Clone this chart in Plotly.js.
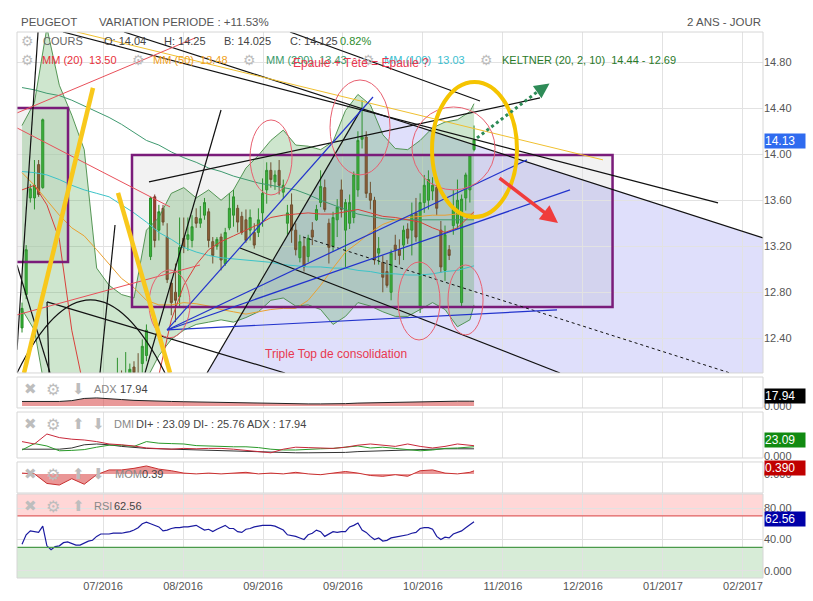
<!DOCTYPE html>
<html><head><meta charset="utf-8">
<script src="https://cdn.plot.ly/plotly-3.0.1.min.js"></script>
<style>html,body{margin:0;padding:0;background:#fff;}#chart{width:813px;height:601px;}</style>
</head><body><div id="chart"></div>
<script>
// ---- daily candles (index = trading day) ----
const open = [12.49,12.78,13.62,13.62,13.91,13.71,11.95,11.45,11.05,11.15,11.00,10.75,10.95,11.20,11.10,11.45,11.60,11.50,11.80,11.70,11.85,11.75,11.90,11.95,12.05,11.98,12.00,12.15,12.08,12.18,12.25,13.11,13.63,13.34,13.53,13.28,12.88,12.80,12.76,13.27,13.26,13.25,13.45,13.40,13.47,13.50,13.24,13.20,13.28,13.05,13.36,13.47,13.53,13.46,13.43,13.34,13.32,13.32,13.49,13.69,13.86,13.76,13.86,13.67,13.40,13.56,13.34,13.10,13.20,13.11,13.34,13.43,13.58,13.71,13.40,13.20,13.43,13.69,13.34,13.40,13.45,13.69,14.13,14.15,13.66,13.60,13.14,13.06,12.98,12.80,13.21,13.17,13.21,13.35,13.34,13.49,12.68,13.58,13.60,13.68,13.71,13.34,12.99,13.17,13.38,13.40,12.71,13.62,13.69,14.04];
const high = [12.71,13.21,13.74,13.95,13.95,14.31,12.05,11.60,11.30,11.35,11.10,11.00,11.30,11.40,11.50,11.70,11.75,11.85,11.95,11.90,12.00,11.95,12.05,12.23,12.12,12.28,12.18,12.20,12.27,12.39,12.52,13.63,13.65,13.56,13.56,13.40,12.91,13.05,13.45,13.45,13.45,13.47,13.53,13.55,13.62,13.53,13.28,13.28,13.31,13.36,13.66,13.69,13.56,13.50,13.52,13.52,13.40,13.53,13.79,13.93,13.93,13.86,13.95,13.78,13.56,13.66,13.40,13.30,13.28,13.30,13.41,13.56,13.86,13.78,13.44,13.50,13.61,13.78,13.61,13.65,13.85,14.20,14.47,14.20,13.76,13.63,13.28,13.12,13.08,13.17,13.30,13.26,13.38,13.40,13.58,13.62,13.66,13.82,13.86,13.80,13.75,13.42,13.38,13.21,13.69,13.78,13.65,13.84,14.00,14.25];
const low = [12.45,12.74,13.58,13.52,13.63,13.70,11.40,10.90,10.80,10.95,10.60,10.55,10.90,11.00,11.05,11.35,11.40,11.45,11.60,11.55,11.70,11.65,11.80,11.85,11.90,11.92,11.95,12.02,12.00,12.10,12.20,13.08,13.19,13.25,13.38,12.88,12.60,12.54,12.67,13.14,13.16,13.19,13.36,13.36,13.43,13.19,13.05,13.17,12.99,13.03,13.34,13.37,13.32,13.30,13.23,13.25,13.18,13.28,13.37,13.57,13.71,13.69,13.65,13.61,13.30,13.23,13.12,13.06,12.98,13.06,13.21,13.42,13.54,13.50,13.05,13.15,13.28,13.45,13.02,13.35,13.40,13.63,14.05,13.62,13.52,13.04,13.04,12.80,12.84,12.73,13.08,13.04,13.08,13.22,13.12,13.24,12.62,13.49,13.52,13.60,13.47,12.97,12.90,13.08,13.30,13.35,12.67,13.51,13.58,14.025];
const close = [12.66,13.17,13.70,13.73,13.65,14.30,11.50,11.00,11.20,11.05,10.70,10.95,11.25,11.10,11.45,11.60,11.50,11.80,11.70,11.85,11.75,11.90,11.95,12.05,11.98,12.08,12.13,12.10,12.05,12.33,12.47,13.62,13.25,13.50,13.41,12.91,12.71,12.73,13.19,13.19,13.30,13.37,13.40,13.44,13.58,13.25,13.12,13.26,13.08,13.32,13.53,13.63,13.41,13.32,13.25,13.45,13.21,13.43,13.66,13.86,13.78,13.82,13.73,13.73,13.49,13.34,13.17,13.24,13.02,13.27,13.28,13.52,13.72,13.52,13.19,13.45,13.54,13.52,13.58,13.58,13.82,14.12,14.15,13.66,13.60,13.08,13.18,12.93,12.86,13.14,13.17,13.12,13.34,13.27,13.47,13.28,13.58,13.73,13.78,13.73,13.53,13.02,13.30,13.12,13.52,13.60,13.61,13.82,13.99,14.125];
const rsi = [34,46,51,50,49,57,32,27,31,32,36,37,35,33,33,35,38,39,44,47,47,47,48,48,48,49,50,52,55,60,62,60,58,56,51,52,54,55,55,56,56,57,58,55,52,53,50,53,56,58,54,54,50,49,53,54,56,57,58,58,58,57,54,52,46,45,44,42,40,46,48,52,50,44,47,50,49,50,50,56,58,61,52,49,44,40,42,38,39,42,43,44,45,46,48,49,54,55,55,53,44,40,43,42,47,49,51,55,59,62.56];

// ---- indicators sampled every 3 sessions ----
const indX = [0,3,6,9,12,15,18,21,24,27,30,33,36,39,42,45,48,51,54,57,60,63,66,69,72,75,78,81,84,87,90,93,96,99,102,105,108,109];
const mm20 = [13.69,13.73,13.56,13.26,12.47,11.95,11.43,11.25,11.25,11.43,11.60,12.08,12.56,12.86,13.04,13.17,13.24,13.29,13.34,13.39,13.45,13.47,13.48,13.49,13.48,13.48,13.50,13.52,13.49,13.46,13.45,13.43,13.41,13.36,13.32,13.36,13.46,13.50];
const mm50 = [13.84,13.73,13.60,13.47,13.36,13.29,13.17,13.04,12.92,12.84,12.73,12.69,12.69,12.71,12.70,12.68,12.65,12.63,12.61,12.63,12.65,12.66,12.66,12.73,12.86,13.01,13.15,13.23,13.32,13.39,13.43,13.45,13.46,13.47,13.47,13.48,13.48,13.48];
const mm200 = [14.58,14.56,14.53,14.51,14.47,14.42,14.37,14.32,14.26,14.19,14.12,14.08,14.02,13.97,13.93,13.88,13.85,13.81,13.78,13.75,13.73,13.71,13.69,13.65,13.60,13.56,13.52,13.48,13.46,13.44,13.43,13.43,13.43,13.43,13.43,13.43,13.43,13.43];
const mm100 = [13.85,13.84,13.82,13.78,13.73,13.69,13.66,13.63,13.56,13.49,13.41,13.32,13.26,13.19,13.15,13.12,13.10,13.09,13.08,13.07,13.06,13.04,13.03,13.02,13.02,13.01,13.01,12.99,12.98,12.96,12.96,12.95,12.95,12.96,12.98,12.99,13.02,13.03];
const keltUp = [14.25,14.45,15.10,14.60,14.34,14.04,13.01,12.86,12.78,12.75,13.34,13.45,13.66,13.71,13.62,13.69,13.60,13.69,13.88,13.99,14.12,14.21,14.08,14.07,14.04,14.11,14.38,14.52,14.43,14.17,14.05,14.04,14.12,14.23,14.28,14.30,14.37,14.44];
const keltLow = [12.65,12.47,11.86,11.69,11.60,11.52,11.52,11.60,11.69,11.86,12.04,12.25,12.39,12.47,12.52,12.54,12.56,12.54,12.58,12.63,12.73,12.75,12.68,12.69,12.65,12.52,12.59,12.71,12.68,12.63,12.59,12.59,12.65,12.71,12.65,12.50,12.56,12.69];
const adx = [17,17,17,17,20,28,30,28,24,21,19,18,17,16,15,15,14,13,12,11,10,9,8,8,8,8,9,11,12,14,15,16,17,17,18,18,18,17.94];
const diPlus = [15,31,25,13,14,16,22,27,27,24,36,32,31,30,26,25,23,23,23,21,17,15,15,17,18,19,22,25,20,22,19,16,13,15,19,20,21,23.09];
const diMinus = [36,30,55,46,42,40,36,30,28,25,20,18,17,19,18,19,19,17,14,10,8,17,22,21,20,19,22,27,30,27,24,30,24,20,24,30,27,25.76];
const mom = [0.1,0.0,-1.2,-1.4,-0.6,-1.3,-0.1,0.5,0.5,0.7,1.0,0.6,0.4,0.1,0.0,0.1,0.0,0.1,0.2,0.0,0.1,0.0,0.2,0.0,-0.1,0.1,0.3,0.1,-0.2,-0.3,-0.1,-0.3,0.4,0.5,0.1,0.0,0.2,0.39];

// ---- axis ticks ----
const xTickPos = [19.53,38.82,58.11,77.40,96.69,115.98,135.27,154.56,173.85];
const xTickText = ['07/2016','08/2016','09/2016','09/2016','10/2016','11/2016','12/2016','01/2017','02/2017'];
const priceTicks = [12.4,12.8,13.2,13.6,14.0,14.4,14.8];

const idx = open.map((_, i) => i);
const FONT = 'Liberation Sans, Arial, sans-serif';

const traces = [
  {type:'scatter', mode:'lines', x:indX, y:keltUp, xaxis:'x', yaxis:'y', line:{color:'rgba(70,140,70,0.9)', width:1}, hoverinfo:'skip'},
  {type:'scatter', mode:'lines', x:indX, y:keltLow, xaxis:'x', yaxis:'y', line:{color:'rgba(70,140,70,0.9)', width:1}, fill:'tonexty', fillcolor:'rgba(80,165,80,0.28)', hoverinfo:'skip'},
  {type:'scatter', mode:'lines', x:indX, y:mm200, line:{color:'#3f9a70', width:1}, hoverinfo:'skip'},
  {type:'scatter', mode:'lines', x:indX, y:mm100, line:{color:'#3cc3c8', width:1}, hoverinfo:'skip'},
  {type:'scatter', mode:'lines', x:indX, y:mm50, line:{color:'#eaa030', width:1}, hoverinfo:'skip'},
  {type:'scatter', mode:'lines', x:indX, y:mm20, line:{color:'#d8403a', width:1}, hoverinfo:'skip'},
  {type:'candlestick', x:idx, open:open, high:high, low:low, close:close, xaxis:'x', yaxis:'y', whiskerwidth:0,
   increasing:{line:{color:'#238a23', width:1}, fillcolor:'#36b936'},
   decreasing:{line:{color:'#7a3024', width:1}, fillcolor:'#a8432f'}, hoverinfo:'skip'},
  {type:'scatter', mode:'lines', x:indX, y:adx, yaxis:'y2', line:{color:'#222', width:1}, fill:'tozeroy', fillcolor:'rgba(215,70,70,0.55)', hoverinfo:'skip'},
  {type:'scatter', mode:'lines', x:indX, y:adx, yaxis:'y3', line:{color:'#333', width:1}, hoverinfo:'skip'},
  {type:'scatter', mode:'lines', x:indX, y:diPlus, yaxis:'y3', line:{color:'#2a9a2a', width:1}, hoverinfo:'skip'},
  {type:'scatter', mode:'lines', x:indX, y:diMinus, yaxis:'y3', line:{color:'#c8283a', width:1}, hoverinfo:'skip'},
  {type:'scatter', mode:'lines', x:indX, y:mom, yaxis:'y4', line:{color:'#c83030', width:1}, fill:'tozeroy', fillcolor:'rgba(220,80,80,0.6)', hoverinfo:'skip'},
  {type:'scatter', mode:'lines', x:idx, y:rsi, yaxis:'y5', line:{color:'#1a1aa0', width:1.2}, hoverinfo:'skip'}
];

const PX = x => (x - 17) / 746, PY = y => (578 - y) / 546;

function ln(x0,y0,x1,y1,color,width,dash){return {type:'line',xref:'x',yref:'y',x0,y0,x1,y1,line:{color,width,dash:dash||'solid'},layer:'above'};}
function ell(x0,y0,x1,y1,color,width){return {type:'circle',xref:'x',yref:'y',x0,y0,x1,y1,line:{color,width},fillcolor:'rgba(0,0,0,0)',layer:'above'};}
function frame(y0,y1){return {type:'rect',xref:'paper',yref:'paper',x0:0,x1:1,y0,y1,line:{color:'#d6d6d6',width:1},fillcolor:'rgba(0,0,0,0)',layer:'above'};}

const BLK='#111', RED='#e8505a', BLUE='#2233cc', PUR='#7a1c7a', YEL='#f8c81c';
const shapes = [
  {type:'path', xref:'x', yref:'y', path:'M 41.4,11.9 L 81.99,14.403 L 178.68,13.272 L 181,13.26 L 181,11.9 Z', fillcolor:'rgba(170,170,245,0.38)', line:{width:0}, layer:'below'},
  {type:'rect', xref:'x', yref:'y', x0:26.52, x1:142.4, y0:12.672, y1:13.994, fillcolor:'rgba(0,0,0,0.05)', line:{width:0}, layer:'below'},
  {type:'rect', xref:'x', yref:'y', x0:-1.5, x1:11.09, y0:13.063, y1:14.403, fillcolor:'rgba(0,0,0,0.05)', line:{width:0}, layer:'below'},
  {type:'rect', xref:'x', yref:'y', x0:26.52, x1:142.4, y0:12.672, y1:13.994, fillcolor:'rgba(0,0,0,0)', line:{color:PUR,width:2.5}, layer:'above'},
  {type:'rect', xref:'x', yref:'y', x0:-1.5, x1:11.09, y0:13.063, y1:14.403, fillcolor:'rgba(0,0,0,0)', line:{color:PUR,width:2.5}, layer:'above'},
  // black trendlines
  ln(64.62,15.063,110.44,14.463,BLK,1.2),
  ln(9.89,15.063,167.83,13.577,BLK,1.2),
  ln(24.60,15.063,178.68,13.272,BLK,1.2),
  ln(44.61,12.098,81.99,14.403,BLK,1.2),
  ln(52.57,13.185,129.73,12.098,BLK,1.2),
  ln(6.03,12.716,63.42,12.098,BLK,1.2),
  ln(30.62,13.759,124.91,14.490,BLK,1.2),
  ln(29.66,12.098,47.99,14.385,BLK,1.2),
  ln(18.81,12.098,22.43,13.385,BLK,1.2),
  ln(3.86,15.063,-1.21,12.30,BLK,1.2),
  ln(-1.21,13.037,6.75,12.098,BLK,1.2),
  ln(6.03,12.716,6.51,12.098,BLK,1.2),
  {type:'path', xref:'x', yref:'y', path:'M -1.21,12.098 Q 16.40,13.368 34.48,12.098', line:{color:BLK,width:1.2}, layer:'above'},
  ln(67.76,13.281,170.73,12.098,BLK,1,'dot'),
  // thin yellow
  ln(13.26,15.063,140.10,13.951,'#f0c030',1),
  // red thin lines
  ln(-1.21,14.359,41.72,15.011,RED,1),
  ln(-1.21,14.229,35.69,13.542,RED,1),
  ln(-1.21,12.603,42.92,13.037,RED,1),
  // blue fan
  ln(34.97,12.472,84.64,14.498,BLUE,1.2),
  ln(34.97,12.472,121.77,13.951,BLUE,1.2),
  ln(34.97,12.472,132.14,13.690,BLUE,1.2),
  ln(34.97,12.472,129.01,12.646,BLUE,1.2),
  // red ellipses
  ell(30.62,12.404,40.51,12.994,'#e86070',1),
  ell(54.98,13.646,65.11,14.298,'#e86070',1),
  ell(74.27,13.820,88.74,14.646,'#e86070',1),
  ell(94.04,13.690,114.06,14.411,'#e86070',1),
  ell(90.67,12.385,100.80,13.063,'#e86070',1),
  ell(102.72,12.429,111.17,13.037,'#e86070',1),
  // yellow thick
  ln(0.48,12.098,17.12,14.577,YEL,4.5),
  ln(23.15,13.664,35.69,12.098,YEL,4.5),
  ell(98.87,13.455,119.36,14.629,'#f5c400',4),
  // green dotted arrow
  ln(109.72,14.142,125.6,14.58,'#2e8b57',3,'dot'),
  // RSI zones
  {type:'rect', xref:'paper', yref:'y5', x0:0, x1:1, y0:70, y1:97.8, fillcolor:'rgba(255,150,150,0.38)', line:{width:0}, layer:'below'},
  {type:'rect', xref:'paper', yref:'y5', x0:0, x1:1, y0:-8.9, y1:30, fillcolor:'rgba(150,205,150,0.38)', line:{width:0}, layer:'below'},
  {type:'line', xref:'paper', yref:'y5', x0:0, x1:1, y0:70, y1:70, line:{color:'#e06060',width:1.2}},
  {type:'line', xref:'paper', yref:'y5', x0:0, x1:1, y0:30, y1:30, line:{color:'#4a9a4a',width:1.2}},
  // panel frames
  frame(0.3755,1.0), frame(0.3114,0.3681), frame(0.2198,0.3040), frame(0.1557,0.2125), frame(0,0.1538)
];

const ann = [];
function t(x,y,text,color,size,anchor,fam){ann.push({xref:'paper',yref:'paper',x:PX(x),y:PY(y),text,showarrow:false,xanchor:anchor||'left',yanchor:'middle',font:{family:fam||FONT,size:size||11,color:color||'#555'}});}
function box(y,text,bg){ann.push({xref:'paper',yref:'paper',x:PX(764),y:PY(y),text,showarrow:false,xanchor:'left',yanchor:'middle',width:40,height:14,align:'left',bgcolor:bg,borderpad:0,font:{family:FONT,size:12,color:'#fff'}});}
const ICON='DejaVu Sans', IC='#bdbdbd';
// header
t(19,22,'PEUGEOT','#555',11.5);
t(97,22,'VARIATION PERIODE : +11.53%','#555',11.5);
t(763,22,'2 ANS - JOUR','#555',11.5,'right');
// row 1
t(27,41,'⚙',IC,14,'center',ICON);
t(41,41,'COURS','#666');
t(102,41,'O: 14.04','#444');
t(162,41,'H: 14.25','#444');
t(222,41,'B: 14.025','#444');
t(288,41,'C: 14.125','#444');
t(338,41,'0.82%','#2e8b2e');
// row 2
t(27,60,'⚙',IC,14,'center',ICON);
t(40,60,'MM (20)  13.50','#e8303a');
t(138,60,'⚙',IC,14,'center',ICON);
t(151,60,'MM (50)  13.48','#f0a020');
t(249,60,'⚙',IC,14,'center',ICON);
t(264,60,'MM (200)  13.43','#3a9a6a');
t(368,60,'⚙',IC,14,'center',ICON);
t(382,60,'MM (100)  13.03','#3cc0d0');
t(486,60,'⚙',IC,14,'center',ICON);
t(500,60,'KELTNER (20, 2, 10)  14.44 - 12.69','#2a7a2a');
// panel headers
t(30,389,'✖',IC,15,'center',ICON); t(53,389,'⚙',IC,16,'center',ICON); t(78,389,'⬇',IC,15,'center',ICON);
t(92,389,'ADX','#888'); t(118,389,'17.94','#444');
t(30,424,'✖',IC,15,'center',ICON); t(53,424,'⚙',IC,16,'center',ICON); t(78,424,'⬆',IC,15,'center',ICON); t(98,424,'⬇',IC,15,'center',ICON);
t(112,424,'DMI','#888'); t(134,424,'DI+ : 23.09 DI- : 25.76 ADX : 17.94','#444');
t(30,474,'✖',IC,15,'center',ICON); t(53,474,'⚙',IC,16,'center',ICON); t(78,474,'⬆',IC,15,'center',ICON); t(98,474,'⬇',IC,15,'center',ICON);
t(113,474,'MOM','#888'); t(140,474,'0.39','#444');
t(30,506,'✖',IC,15,'center',ICON); t(53,506,'⚙',IC,16,'center',ICON); t(78,506,'⬆',IC,15,'center',ICON);
t(92,506,'RSI','#888'); t(112,506,'62.56','#444');
// value boxes
box(141,'14.13','#2f6bef');
box(396,'17.94','#000');
box(439.5,'23.09','#118a11');
box(468,'0.390','#c00000');
box(519,'62.56','#0000a8');
// chart notes
ann.push({xref:'x',yref:'y',x:81.75,y:14.795,text:'Epaule + Tête = Epaule ?',showarrow:false,font:{family:FONT,size:12,color:'#e8384f'}});
ann.push({xref:'x',yref:'y',x:75.72,y:12.263,text:'Triple Top de consolidation',showarrow:false,font:{family:FONT,size:12,color:'#e8384f'}});
// arrows
ann.push({xref:'x',yref:'y',axref:'x',ayref:'y',x:129.25,y:13.403,ax:114.78,ay:13.803,text:'',showarrow:true,arrowhead:2,arrowsize:1,arrowwidth:3.5,arrowcolor:'#f03c3c'});
ann.push({xref:'x',yref:'y',axref:'x',ayref:'y',x:127.2,y:14.615,ax:124.2,ay:14.54,text:'',showarrow:true,arrowhead:2,arrowsize:1,arrowwidth:3,arrowcolor:'#2e8b57'});

const tf = {family:FONT,size:11,color:'#555'};
const layout = {
  width:813, height:601, margin:{l:17,r:50,t:32,b:23,pad:0},
  paper_bgcolor:'#fff', plot_bgcolor:'#fff', showlegend:false, hovermode:false,
  xaxis:{domain:[0,1], range:[-1.21,178.68], anchor:'y5', tickvals:xTickPos, ticktext:xTickText, tickfont:tf,
         showgrid:true, gridcolor:'#e2e2e2', zeroline:false, showline:false, ticks:'', rangeslider:{visible:false}, fixedrange:true},
  yaxis:{domain:[0.3755,1], range:[12.098,15.063], side:'right', anchor:'x', tickvals:priceTicks, tickformat:'.2f', tickfont:tf,
         gridcolor:'#e2e2e2', zeroline:false, showline:false, ticks:'', fixedrange:true},
  yaxis2:{domain:[0.3114,0.3681], range:[-7,107], side:'right', anchor:'x', tickvals:[0], ticktext:['0.000'], tickfont:tf, showgrid:false, zeroline:false, ticks:''},
  yaxis3:{domain:[0.2198,0.3040], range:[-5,110], side:'right', anchor:'x', tickvals:[0], ticktext:['0.000'], tickfont:tf, showgrid:false, zeroline:false, ticks:''},
  yaxis4:{domain:[0.1557,0.2125], range:[-2.4,1.5], side:'right', anchor:'x', tickvals:[0], ticktext:['0.000'], tickfont:tf, showgrid:false, zeroline:false, ticks:''},
  yaxis5:{domain:[0,0.1538], range:[-8.9,97.8], side:'right', anchor:'x', tickvals:[0,40,80], ticktext:['0.000','40.00','80.00'], tickfont:tf, gridcolor:'#e2e2e2', zeroline:false, ticks:''},
  shapes:shapes, annotations:ann
};
Plotly.newPlot('chart', traces, layout, {displayModeBar:false, staticPlot:true});
</script>
</body></html>
